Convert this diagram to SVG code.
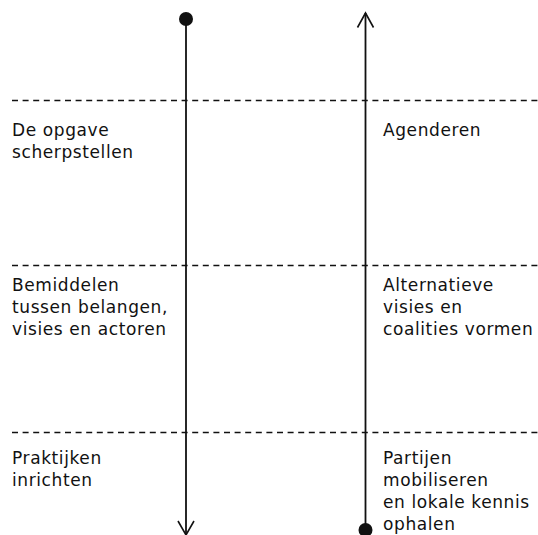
<svg xmlns="http://www.w3.org/2000/svg" width="538" height="535" viewBox="0 0 538 535">
<style>
.t{font-family:"DejaVu Sans","Liberation Sans",sans-serif;font-size:17px;letter-spacing:0.6px;fill:#111}
.d{stroke:#111;stroke-width:1.3;stroke-dasharray:6 4.6;fill:none}
.c{stroke:#111;stroke-width:1.8;fill:none}
.h{stroke:#111;stroke-width:1.6;fill:none}
</style>
<g id="dividers">
<line class="d" x1="12" y1="100.5" x2="538" y2="100.5"/>
<line class="d" x1="12" y1="265.5" x2="538" y2="265.5"/>
<line class="d" x1="12" y1="432.5" x2="538" y2="432.5"/>
</g>
<g id="connectors">
<line class="c" x1="186" y1="19" x2="186" y2="535"/>
<path class="h" d="M178,521 L186,535 L194,521"/>
<circle cx="186" cy="19" r="7" fill="#111"/>
<line class="c" x1="365.5" y1="530" x2="365.5" y2="13"/>
<path class="h" d="M357.5,27.5 L365.5,13 L373.5,27.5"/>
<circle cx="365.5" cy="530" r="7" fill="#111"/>
</g>
<g id="n1"><text class="t" x="12" y="136">De opgave</text><text class="t" x="12" y="158">scherpstellen</text></g>
<g id="n2"><text class="t" x="383" y="136">Agenderen</text></g>
<g id="n3"><text class="t" x="12" y="290.5">Bemiddelen</text><text class="t" x="12" y="312.5">tussen belangen,</text><text class="t" x="12" y="334.5">visies en actoren</text></g>
<g id="n4"><text class="t" x="383" y="290.5">Alternatieve</text><text class="t" x="383" y="312.5">visies en</text><text class="t" x="383" y="334.5">coalities vormen</text></g>
<g id="n5"><text class="t" x="12" y="464">Praktijken</text><text class="t" x="12" y="486">inrichten</text></g>
<g id="n6"><text class="t" x="383" y="464">Partijen</text><text class="t" x="383" y="486">mobiliseren</text><text class="t" x="383" y="508">en lokale kennis</text><text class="t" x="383" y="530">ophalen</text></g>
</svg>
